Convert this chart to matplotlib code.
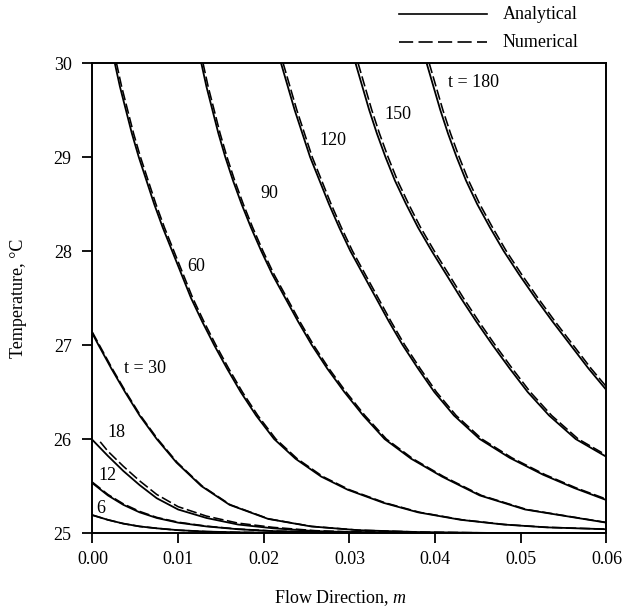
import matplotlib
matplotlib.use("Agg")
import matplotlib.pyplot as plt
from matplotlib.lines import Line2D

plt.rcParams['font.family'] = ['Liberation Serif', 'DejaVu Serif']
plt.rcParams['mathtext.fontset'] = 'custom'
plt.rcParams['mathtext.rm'] = 'Liberation Serif'
plt.rcParams['mathtext.it'] = 'Liberation Serif:italic'

# time of each curve (labels on the chart)
times = [6, 12, 18, 30, 60, 90, 120, 150, 180]

# points: position along flow (m) and temperature (°C)
m_analytical = [
    [0.0, 0.0018, 0.0036, 0.0055, 0.0075, 0.0100, 0.0133, 0.0170, 0.0220, 0.0600],
    [0.0, 0.0018, 0.0036, 0.0055, 0.0075, 0.0100, 0.0133, 0.0170, 0.0211, 0.0260, 0.0350, 0.0600],
    [0.0, 0.0018, 0.0036, 0.0055, 0.0075, 0.0100, 0.0133, 0.0170, 0.0211, 0.0260, 0.0300, 0.0400, 0.0600],
    [0.0, 0.0007, 0.0022, 0.0038, 0.0055, 0.0075, 0.0098, 0.0127, 0.0160, 0.0205, 0.0255, 0.0310, 0.0380, 0.0470, 0.0600],
    [0.0026, 0.0032, 0.0039, 0.0046, 0.0054, 0.0063, 0.0072, 0.0082, 0.0093, 0.0104, 0.0115, 0.0128, 0.0142,
     0.0157, 0.0173, 0.0191, 0.0212, 0.0237, 0.0267, 0.0298, 0.0340, 0.0380, 0.0430, 0.0480, 0.0530, 0.0600],
    [0.0127, 0.0133, 0.0140, 0.0147, 0.0155, 0.0164, 0.0174, 0.0185, 0.0197, 0.0210, 0.0225, 0.0240, 0.0256,
     0.0274, 0.0294, 0.0316, 0.0341, 0.0372, 0.0408, 0.0452, 0.0505, 0.0600],
    [0.0220, 0.0228, 0.0236, 0.0245, 0.0254, 0.0265, 0.0276, 0.0288, 0.0301, 0.0316, 0.0331, 0.0346, 0.0362,
     0.0380, 0.0399, 0.0422, 0.0452, 0.0487, 0.0526, 0.0562, 0.0600],
    [0.0307, 0.0315, 0.0323, 0.0332, 0.0342, 0.0353, 0.0366, 0.0380, 0.0396, 0.0413, 0.0430, 0.0448, 0.0467,
     0.0487, 0.0508, 0.0533, 0.0564, 0.0600],
    [0.0390, 0.0398, 0.0406, 0.0415, 0.0425, 0.0436, 0.0449, 0.0464, 0.0480, 0.0498, 0.0517, 0.0537, 0.0558,
     0.0579, 0.0600],
]
T_analytical = [
    [25.19, 25.14, 25.10, 25.07, 25.05, 25.03, 25.015, 25.007, 25.002, 25.0],
    [25.53, 25.40, 25.30, 25.22, 25.16, 25.11, 25.07, 25.04, 25.02, 25.01, 25.0, 25.0],
    [25.99, 25.82, 25.66, 25.51, 25.37, 25.25, 25.16, 25.09, 25.05, 25.02, 25.01, 25.0, 25.0],
    [27.12, 27.0, 26.75, 26.5, 26.25, 26.0, 25.75, 25.5, 25.3, 25.15, 25.07, 25.03, 25.01, 25.0, 25.0],
    [30.0, 29.75, 29.5, 29.25, 29.0, 28.75, 28.5, 28.25, 28.0, 27.75, 27.5, 27.25, 27.0,
     26.75, 26.5, 26.25, 26.0, 25.79, 25.6, 25.46, 25.32, 25.22, 25.14, 25.09, 25.06, 25.04],
    [30.0, 29.75, 29.5, 29.25, 29.0, 28.75, 28.5, 28.25, 28.0, 27.75, 27.5, 27.25, 27.0,
     26.75, 26.5, 26.25, 26.0, 25.79, 25.6, 25.4, 25.25, 25.11],
    [30.0, 29.75, 29.5, 29.25, 29.0, 28.75, 28.5, 28.25, 28.0, 27.75, 27.5, 27.25, 27.0,
     26.75, 26.5, 26.25, 26.0, 25.8, 25.62, 25.48, 25.35],
    [30.0, 29.75, 29.5, 29.25, 29.0, 28.75, 28.5, 28.25, 28.0, 27.75, 27.5, 27.25, 27.0,
     26.75, 26.5, 26.25, 26.0, 25.81],
    [30.0, 29.75, 29.5, 29.25, 29.0, 28.75, 28.5, 28.25, 28.0, 27.75, 27.5, 27.25, 27.0,
     26.75, 26.52],
]
m_numerical = [
    [0.0, 0.0018, 0.0036, 0.0055, 0.0075, 0.0100, 0.0133, 0.0170, 0.0220, 0.0600],
    [0.0, 0.0018, 0.0036, 0.0055, 0.0075, 0.0100, 0.0133, 0.0170, 0.0211, 0.0260, 0.0350, 0.0600],
    [0.0009, 0.0018, 0.0036, 0.0055, 0.0075, 0.0100, 0.0133, 0.0170, 0.0211, 0.0260, 0.0300, 0.0400, 0.0600],
    [0.0, 0.0008, 0.0023, 0.0039, 0.0056, 0.0076, 0.0099, 0.0128, 0.0161, 0.0206, 0.0256, 0.0311, 0.0381, 0.0471, 0.0600],
    [0.0028, 0.0034, 0.0041, 0.0048, 0.0056, 0.0065, 0.0074, 0.0084, 0.0095, 0.0106, 0.0117, 0.0130, 0.0144,
     0.0159, 0.0175, 0.0193, 0.0214, 0.0239, 0.0269, 0.0300, 0.0342, 0.0382, 0.0432, 0.0482, 0.0532, 0.0600],
    [0.0129, 0.0135, 0.0142, 0.0149, 0.0157, 0.0166, 0.0176, 0.0187, 0.0199, 0.0212, 0.0227, 0.0242, 0.0258,
     0.0276, 0.0296, 0.0318, 0.0343, 0.0374, 0.0410, 0.0454, 0.0507, 0.0600],
    [0.02225, 0.02305, 0.02385, 0.02475, 0.02565, 0.02675, 0.02785, 0.02905, 0.03035, 0.03185, 0.03335, 0.03485,
     0.03645, 0.03825, 0.04015, 0.04245, 0.04545, 0.04895, 0.05285, 0.05645, 0.0600],
    [0.0310, 0.0318, 0.0326, 0.0335, 0.0345, 0.0356, 0.0369, 0.0383, 0.0399, 0.0416, 0.0433, 0.0451, 0.0470,
     0.0490, 0.0511, 0.0536, 0.0567, 0.0600],
    [0.0393, 0.0401, 0.0409, 0.0418, 0.0428, 0.0439, 0.0452, 0.0467, 0.0483, 0.0501, 0.0520, 0.0540, 0.0561,
     0.0582, 0.0600],
]
T_numerical = [
    [25.19, 25.14, 25.10, 25.07, 25.05, 25.03, 25.015, 25.007, 25.002, 25.0],
    [25.54, 25.41, 25.31, 25.23, 25.166, 25.115, 25.073, 25.042, 25.021, 25.01, 25.0, 25.0],
    [25.97, 25.87, 25.71, 25.555, 25.41, 25.28, 25.18, 25.105, 25.06, 25.025, 25.013, 25.002, 25.0],
    [27.135, 27.0, 26.75, 26.5, 26.25, 26.0, 25.75, 25.5, 25.3, 25.15, 25.07, 25.03, 25.01, 25.0, 25.0],
    [30.0, 29.75, 29.5, 29.25, 29.0, 28.75, 28.5, 28.25, 28.0, 27.75, 27.5, 27.25, 27.0,
     26.75, 26.5, 26.25, 26.0, 25.79, 25.6, 25.46, 25.32, 25.22, 25.14, 25.09, 25.06, 25.041],
    [30.0, 29.75, 29.5, 29.25, 29.0, 28.75, 28.5, 28.25, 28.0, 27.75, 27.5, 27.25, 27.0,
     26.75, 26.5, 26.25, 26.0, 25.79, 25.6, 25.4, 25.25, 25.112],
    [30.0, 29.75, 29.5, 29.25, 29.0, 28.75, 28.5, 28.25, 28.0, 27.75, 27.5, 27.25, 27.0,
     26.75, 26.5, 26.25, 26.0, 25.8, 25.62, 25.48, 25.36],
    [30.0, 29.75, 29.5, 29.25, 29.0, 28.75, 28.5, 28.25, 28.0, 27.75, 27.5, 27.25, 27.0,
     26.75, 26.5, 26.25, 26.0, 25.827],
    [30.0, 29.75, 29.5, 29.25, 29.0, 28.75, 28.5, 28.25, 28.0, 27.75, 27.5, 27.25, 27.0,
     26.75, 26.555],
]

label_text = ['6', '12', '18', 't = 30', '60', '90', '120', '150', 't = 180']
label_m = [0.0010, 0.0017, 0.0028, 0.0061, 0.0121, 0.0206, 0.0281, 0.0357, 0.0445]
label_T = [25.26, 25.61, 26.07, 26.75, 27.84, 28.61, 29.18, 29.45, 29.79]

fig = plt.figure(figsize=(6.27, 6.13), dpi=100)
ax = fig.add_axes([0.1475, 0.1305, 0.8198, 0.7667])

for i, t in enumerate(times):
    ax.plot(m_analytical[i], T_analytical[i], color='black', lw=1.3, solid_joinstyle='round')
    ax.plot(m_numerical[i], T_numerical[i], color='black', lw=1.15, ls=(0, (6.5, 2.2)))
    ax.text(label_m[i], label_T[i], label_text[i], fontsize=13, ha='center', va='center')

ax.set_xlim(0, 0.06)
ax.set_ylim(25, 30)
ax.set_xticks([0.0, 0.01, 0.02, 0.03, 0.04, 0.05, 0.06])
ax.set_xticklabels(['0.00', '0.01', '0.02', '0.03', '0.04', '0.05', '0.06'])
ax.set_yticks([25, 26, 27, 28, 29, 30])
ax.tick_params(direction='out', length=7, width=1.3, labelsize=13, top=False, right=False)
ax.tick_params(axis='x', pad=6)
ax.tick_params(axis='y', pad=8)
for sp in ax.spines.values():
    sp.set_linewidth(1.4)

ax.set_xlabel('Flow Direction, $m$', fontsize=13)
ax.set_ylabel('Temperature, °C', fontsize=13)
ax.xaxis.set_label_coords(0.483, -0.118)
ax.yaxis.set_label_coords(-0.128, 0.5)

# legend drawn above the plot, at the right
fig.add_artist(Line2D([0.636, 0.777], [0.977, 0.977], color='black', lw=1.2))
fig.add_artist(Line2D([0.636, 0.777], [0.931, 0.931], color='black', lw=1.2,
                      ls=(0, (8.5, 3.2))))
fig.text(0.802, 0.977, 'Analytical', fontsize=13, va='center', ha='left')
fig.text(0.802, 0.931, 'Numerical', fontsize=13, va='center', ha='left')

fig.savefig('out.png', dpi=100)
